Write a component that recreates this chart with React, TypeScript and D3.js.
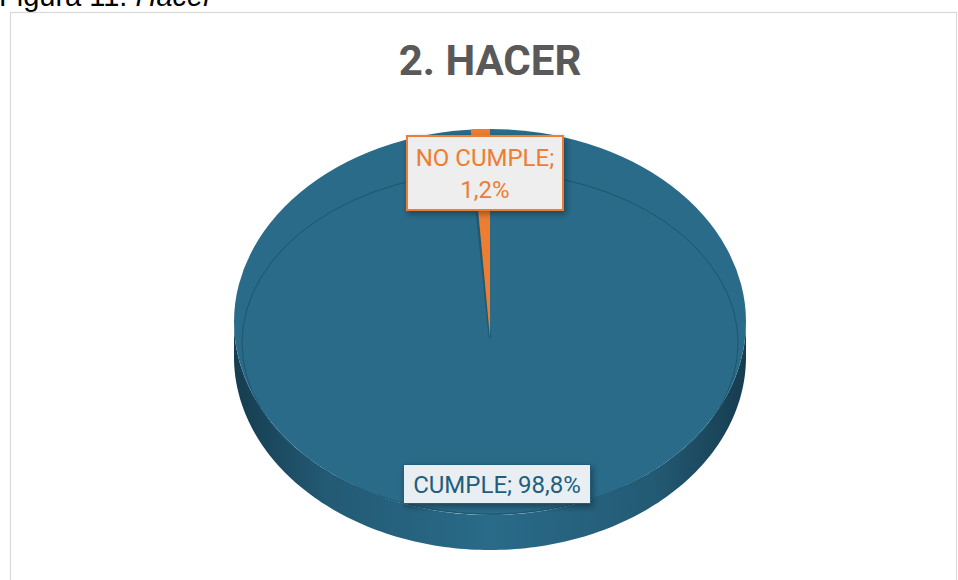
import React from 'react';
import * as d3 from 'd3';

const categories = ['CUMPLE', 'NO CUMPLE'];
const values = [98.8, 1.2];
const valueLabels = ['98,8%', '1,2%'];
const colors = ['#296B89', '#ED7D31'];

const W = 958;
const H = 580;

// ellipse of the top face and the pie depth
const cx = 490;
const cy = 322;
const rx = 256;
const ry = 193;
const depth = 35;
const apexY = 338;

const pt = (a: number, ccy = cy) => [cx + rx * Math.sin(a), ccy - ry * Math.cos(a)];

function arcPoints(a0: number, a1: number, ccy = cy) {
  const n = Math.max(2, Math.ceil(Math.abs(a1 - a0) / 0.02));
  return d3.range(n + 1).map(i => pt(a0 + ((a1 - a0) * i) / n, ccy));
}

export default function App() {
  const pie = d3.pie<number>().sort(null).startAngle(0).endAngle(2 * Math.PI);
  const slices = pie(values);
  const line = d3.line();

  // side wall: visible front half, from 90deg to 270deg
  const top = arcPoints(Math.PI / 2, (3 * Math.PI) / 2);
  const bottom = arcPoints((3 * Math.PI) / 2, Math.PI / 2, cy + depth);
  const side = line([...top, ...bottom] as [number, number][]) + 'Z';

  const small = slices[1];
  const wedge =
    line([[cx, apexY], ...arcPoints(small.startAngle, small.endAngle)] as [number, number][]) + 'Z';

  // shadow along the left edge of the small wedge
  const edge = pt(small.startAngle);
  const t = 0.4;
  const ex = edge[0] + (cx - edge[0]) * t;
  const ey = edge[1] + (apexY - edge[1]) * t;

  return (
    <svg width={W} height={H} style={{ position: 'absolute', left: 0, top: 0, background: '#fff' }}>
      <defs>
        <linearGradient id="sideGrad" x1="0" x2="1" y1="0" y2="0">
          <stop offset="0%" stopColor="#163C4F" />
          <stop offset="18%" stopColor="#235A74" />
          <stop offset="50%" stopColor="#296B89" />
          <stop offset="82%" stopColor="#235A74" />
          <stop offset="100%" stopColor="#163C4F" />
        </linearGradient>
        <filter id="shadow" x="-20%" y="-30%" width="140%" height="170%">
          <feDropShadow dx="2" dy="3" stdDeviation="3" floodColor="#000" floodOpacity="0.35" />
        </filter>
      </defs>

      <text x={-1} y={6} fontFamily="Liberation Sans, Arial, sans-serif" fontSize={29} fill="#000">
        Figura 11. <tspan fontStyle="italic">Hacer</tspan>
      </text>
      <rect x={10.5} y={12.5} width={946} height={600} fill="none" stroke="#D9D9D9" strokeWidth={1.2} />

      <text x={490} y={75} textAnchor="middle" fontFamily="Roboto, sans-serif" fontWeight="bold" fontSize={42} fill="#595959">
        2. HACER
      </text>

      <path d={side} fill="url(#sideGrad)" />
      <ellipse cx={cx} cy={cy} rx={rx} ry={ry} fill={colors[0]} />
      <ellipse cx={cx} cy={343} rx={248} ry={171} fill="none" stroke="#1E5570" strokeWidth={1} />
      <line x1={ex - 1.5} y1={ey} x2={cx} y2={apexY} stroke="#1B4A60" strokeWidth={2.5} opacity={0.55} />
      <path d={wedge} fill={colors[1]} />

      {/* NO CUMPLE label */}
      <g filter="url(#shadow)">
        <rect x={407} y={136} width={156} height={74} fill="#EEEEEE" stroke={colors[1]} strokeWidth={2} />
      </g>
      <text textAnchor="middle" fontFamily="Roboto, sans-serif" fontSize={24} fill={colors[1]}>
        <tspan x={485} y={166}>{categories[1]};</tspan>
        <tspan x={485} y={198}>{valueLabels[1]}</tspan>
      </text>

      {/* CUMPLE label */}
      <g filter="url(#shadow)">
        <rect x={403.5} y={464.5} width={187} height={39} fill="#E9EEF2" stroke="#245F7C" strokeWidth={1} />
      </g>
      <text x={497} y={493} textAnchor="middle" fontFamily="Roboto, sans-serif" fontSize={24} fill="#215E7E">
        {categories[0]}; {valueLabels[0]}
      </text>
    </svg>
  );
}
